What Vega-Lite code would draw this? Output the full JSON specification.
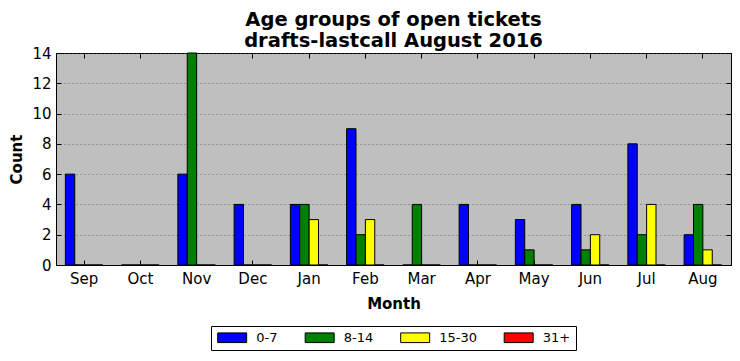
{
  "$schema": "https://vega.github.io/schema/vega-lite/v6.json",
  "width": 675,
  "height": 212,
  "autosize": "none",
  "padding": {"left": 56, "top": 53, "right": 9, "bottom": 96},
  "background": "white",
  "title": {
    "text": ["Age groups of open tickets", "drafts-lastcall August 2016"],
    "font": "DejaVu Sans",
    "fontSize": 19.5,
    "fontWeight": "bold",
    "lineHeight": 21,
    "offset": -5,
    "anchor": "middle",
    "color": "black"
  },
  "data": {
    "values": [
      {"month": "Sep", "group": "0-7", "count": 6}, {"month": "Sep", "group": "8-14", "count": 0}, {"month": "Sep", "group": "15-30", "count": 0}, {"month": "Sep", "group": "31+", "count": 0},
      {"month": "Oct", "group": "0-7", "count": 0}, {"month": "Oct", "group": "8-14", "count": 0}, {"month": "Oct", "group": "15-30", "count": 0}, {"month": "Oct", "group": "31+", "count": 0},
      {"month": "Nov", "group": "0-7", "count": 6}, {"month": "Nov", "group": "8-14", "count": 14}, {"month": "Nov", "group": "15-30", "count": 0}, {"month": "Nov", "group": "31+", "count": 0},
      {"month": "Dec", "group": "0-7", "count": 4}, {"month": "Dec", "group": "8-14", "count": 0}, {"month": "Dec", "group": "15-30", "count": 0}, {"month": "Dec", "group": "31+", "count": 0},
      {"month": "Jan", "group": "0-7", "count": 4}, {"month": "Jan", "group": "8-14", "count": 4}, {"month": "Jan", "group": "15-30", "count": 3}, {"month": "Jan", "group": "31+", "count": 0},
      {"month": "Feb", "group": "0-7", "count": 9}, {"month": "Feb", "group": "8-14", "count": 2}, {"month": "Feb", "group": "15-30", "count": 3}, {"month": "Feb", "group": "31+", "count": 0},
      {"month": "Mar", "group": "0-7", "count": 0}, {"month": "Mar", "group": "8-14", "count": 4}, {"month": "Mar", "group": "15-30", "count": 0}, {"month": "Mar", "group": "31+", "count": 0},
      {"month": "Apr", "group": "0-7", "count": 4}, {"month": "Apr", "group": "8-14", "count": 0}, {"month": "Apr", "group": "15-30", "count": 0}, {"month": "Apr", "group": "31+", "count": 0},
      {"month": "May", "group": "0-7", "count": 3}, {"month": "May", "group": "8-14", "count": 1}, {"month": "May", "group": "15-30", "count": 0}, {"month": "May", "group": "31+", "count": 0},
      {"month": "Jun", "group": "0-7", "count": 4}, {"month": "Jun", "group": "8-14", "count": 1}, {"month": "Jun", "group": "15-30", "count": 2}, {"month": "Jun", "group": "31+", "count": 0},
      {"month": "Jul", "group": "0-7", "count": 8}, {"month": "Jul", "group": "8-14", "count": 2}, {"month": "Jul", "group": "15-30", "count": 4}, {"month": "Jul", "group": "31+", "count": 0},
      {"month": "Aug", "group": "0-7", "count": 2}, {"month": "Aug", "group": "8-14", "count": 4}, {"month": "Aug", "group": "15-30", "count": 1}, {"month": "Aug", "group": "31+", "count": 0}
    ]
  },
  "layer": [
    {
      "mark": {"type": "bar", "stroke": "black", "strokeWidth": 1, "opacity": 1},
      "encoding": {
        "x": {
          "field": "month", "type": "nominal",
          "sort": ["Sep", "Oct", "Nov", "Dec", "Jan", "Feb", "Mar", "Apr", "May", "Jun", "Jul", "Aug"],
          "scale": {"paddingInner": 0.3333, "paddingOuter": 0.16667},
          "axis": {
            "title": "Month", "labelAngle": 0, "tickSize": -5, "labelPadding": 11,
            "titleFontSize": 15, "titleFontWeight": "bold", "titlePadding": 10,
            "labelFontSize": 15
          }
        },
        "xOffset": {
          "field": "group", "type": "nominal",
          "sort": ["0-7", "8-14", "15-30", "31+"],
          "scale": {"paddingInner": 0, "paddingOuter": 0}
        },
        "y": {
          "field": "count", "type": "quantitative",
          "scale": {"domain": [0, 14], "nice": false},
          "axis": {
            "title": "Count", "values": [0, 2, 4, 6, 8, 10, 12, 14], "tickSize": -5, "labelPadding": 10,
            "grid": true, "gridColor": "#555555", "gridWidth": 0.8, "gridDash": [1, 3],
            "titleFontSize": 15, "titleFontWeight": "bold", "titlePadding": 7,
            "labelFontSize": 15
          }
        },
        "color": {
          "field": "group", "type": "nominal",
          "sort": ["0-7", "8-14", "15-30", "31+"],
          "scale": {"domain": ["0-7", "8-14", "15-30", "31+"], "range": ["#0000ff", "#008000", "#ffff00", "#ff0000"]},
          "legend": {
            "title": null, "orient": "none", "legendX": 155, "legendY": 273,
            "direction": "horizontal", "strokeColor": "black", "fillColor": "white", "padding": 5,
            "symbolType": "M-3,-1H3V1H-3Z", "symbolSize": 93.4, "symbolOffset": 9.67,
            "symbolStrokeColor": "black", "symbolStrokeWidth": 1, "symbolOpacity": 1,
            "labelFontSize": 13, "labelOffset": 17.5, "columnPadding": 24.5, "cornerRadius": 0
          }
        }
      }
    },
    {
      "mark": {"type": "bar", "opacity": 0, "clip": true},
      "encoding": {
        "x": {
          "field": "month", "type": "nominal",
          "sort": ["Sep", "Oct", "Nov", "Dec", "Jan", "Feb", "Mar", "Apr", "May", "Jun", "Jul", "Aug"],
          "axis": {"orient": "top", "title": null, "labels": false, "tickSize": -5, "domain": false, "minExtent": 0, "maxExtent": 0}
        },
        "y": {
          "field": "count", "type": "quantitative", "stack": null,
          "axis": {"orient": "right", "title": null, "labels": false, "tickSize": -5, "domain": false, "grid": false, "minExtent": 0, "maxExtent": 0, "values": [0, 2, 4, 6, 8, 10, 12, 14]}
        }
      }
    }
  ],
  "resolve": {"axis": {"x": "independent", "y": "independent"}},
  "config": {
    "font": "DejaVu Sans",
    "view": {"stroke": "black", "strokeWidth": 1, "fill": "#bfbfbf"},
    "axis": {
      "domainColor": "black", "domainWidth": 1, "tickColor": "black", "tickWidth": 1,
      "labelColor": "black", "titleColor": "black", "labelFont": "DejaVu Sans", "titleFont": "DejaVu Sans"
    },
    "axisX": {"grid": false},
    "legend": {"labelFont": "DejaVu Sans", "labelColor": "black"}
  }
}
